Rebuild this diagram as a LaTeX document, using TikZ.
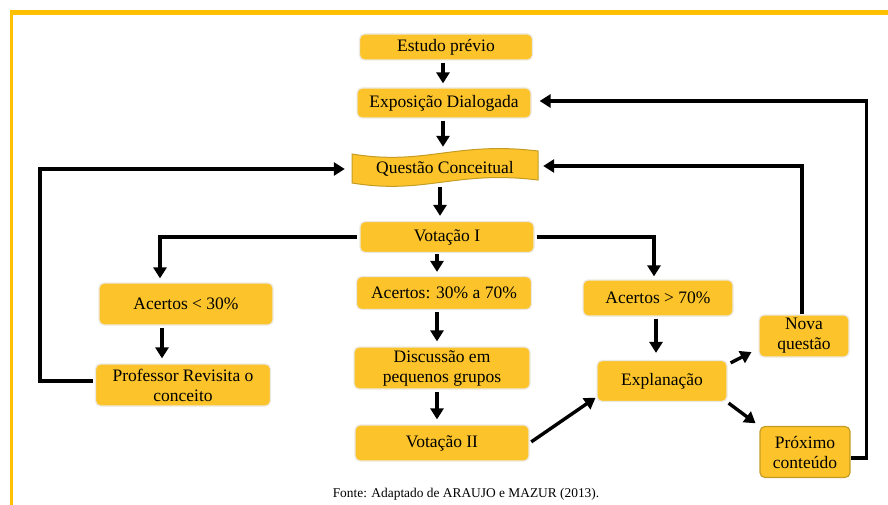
\documentclass[tikz,border=0pt]{standalone}
\usepackage{fontspec}
\setmainfont{Liberation Serif}
\usetikzlibrary{arrows.meta,calc}
\definecolor{frameY}{RGB}{255,192,0}
\definecolor{boxY}{RGB}{252,196,42}
\definecolor{boxEdge}{RGB}{236,233,226}
\definecolor{waveEdge}{RGB}{196,156,36}
\begin{document}
\begin{tikzpicture}[x=1pt,y=-1pt,
  box/.style={rectangle, rounded corners=5pt, fill=boxY, draw=boxEdge, line width=1.2pt,
    align=center, font=\fontsize{17.5}{20}\selectfont, inner sep=2pt},
  arr/.style={line width=3.4pt, -{Triangle[length=11pt,width=13pt]}},
  frame/.style={draw=frameY}]
\useasboundingbox (0,0) rectangle (888,505);
% frame
\draw[frame, line width=5pt] (10,12.5) -- (888,12.5);
\draw[frame, line width=3pt] (11.5,10) -- (11.5,505);

% nodes
\node[box, minimum width=173pt, minimum height=26pt] (est) at (446,47) {Estudo prévio};
\node[box, minimum width=174pt, minimum height=30pt] (exp) at (444,103) {Exposição Dialogada};
\draw[fill=boxY, draw=waveEdge, line width=1pt]
  (352,154) .. controls (425,166) and (455,141) .. (538,151) -- (538,180)
  .. controls (455,170) and (425,195) .. (352,183) -- cycle;
\node[align=center, font=\fontsize{17.5}{20}\selectfont, minimum width=186pt, minimum height=30pt, inner sep=0pt] (que) at (445,169) {Questão Conceitual};
\node[box, minimum width=174pt, minimum height=31pt] (vot1) at (447,237) {Votação I};
\node[box, minimum width=175pt, minimum height=33pt] (a3070) at (444,293) {Acertos: 30\% a 70\%};
\node[box, minimum width=174pt, minimum height=42pt] (a30) at (186,304) {Acertos < 30\%};
\node[box, minimum width=175pt, minimum height=42pt] (prof) at (183,385) {Professor Revisita o\\conceito};
\node[box, minimum width=150pt, minimum height=36pt] (a70) at (658,298) {Acertos > 70\%};
\node[box, minimum width=176pt, minimum height=42pt] (disc) at (442,368) {Discussão em\\pequenos grupos};
\node[box, minimum width=174pt, minimum height=36pt] (vot2) at (442,443) {Votação II};
\node[box, minimum width=130pt, minimum height=41pt] (expl) at (662,381) {Explanação};
\node[box, minimum width=90pt, minimum height=42pt] (nova) at (804,336) {Nova\\questão};
\node[box, draw=waveEdge, minimum width=90pt, minimum height=51pt] (prox) at (805,452) {Próximo\\conteúdo};
\node[font=\fontsize{13.4}{15}\selectfont] (fonte) at (466,494) {Fonte: Adaptado de ARAUJO e MAZUR (2013).};

% connectors
\draw[arr, shorten <=2pt, shorten >=4pt] ([xshift=-3pt]est.south) -- ([xshift=-1pt]exp.north);
\draw[arr, shorten <=2pt, shorten >=7pt] ([xshift=-1pt]exp.south) -- ([xshift=-1pt]exp.south |- que.north);
\draw[arr, shorten <=3pt, shorten >=5pt] ([xshift=-5pt]que.south) -- ([xshift=-5pt]que.south |- vot1.north);
\draw[arr, shorten <=1pt, shorten >=4pt] ([xshift=-10pt]vot1.south) -- ([xshift=-10pt]vot1.south |- a3070.north);
\draw[arr, shorten <=2pt, shorten >=5pt] ([xshift=-7pt]a3070.south) -- ([xshift=-7pt]a3070.south |- disc.north);
\draw[arr, shorten <=2pt, shorten >=5pt] ([xshift=-5pt]disc.south) -- ([xshift=-5pt]disc.south |- vot2.north);
\draw[arr, shorten <=2pt, shorten >=5pt] ([xshift=-24pt]a30.south) -- ([xshift=-24pt]a30.south |- prof.north);
\draw[arr, shorten <=2pt, shorten >=7pt] ([xshift=-2pt]a70.south) -- ([xshift=-2pt]a70.south |- expl.north);
\draw[arr, shorten <=2pt, shorten >=4pt] (vot1.west) -| ([xshift=-26pt]a30.north);
\draw[arr, shorten <=2pt, shorten >=3pt] (vot1.east) -| ([xshift=-4pt]a70.north);
\draw[arr, shorten <=2pt, shorten >=7pt] ([yshift=4pt]prof.west) -- ++(-55,0) |- (que.west);
\draw[arr, shorten >=5pt] ([xshift=-2pt]nova.north) |- ([yshift=3pt]que.east);
\draw[arr, shorten >=8pt] ([yshift=-6pt]prox.east) -- ++(16,0) |- ([yshift=2pt]exp.east);
\draw[arr, shorten <=2pt, shorten >=1pt] (vot2.east) -- ([yshift=5pt]expl.south west);
\draw[arr, shorten >=1pt] ([xshift=3pt,yshift=-3pt]expl.north east) -- ([xshift=-6pt,yshift=6pt]nova.south west);
\draw[arr, shorten >=1pt] ([xshift=1pt,yshift=-1pt]expl.south east) -- ([xshift=-3pt,yshift=2pt]prox.north west);
\end{tikzpicture}
\end{document}
